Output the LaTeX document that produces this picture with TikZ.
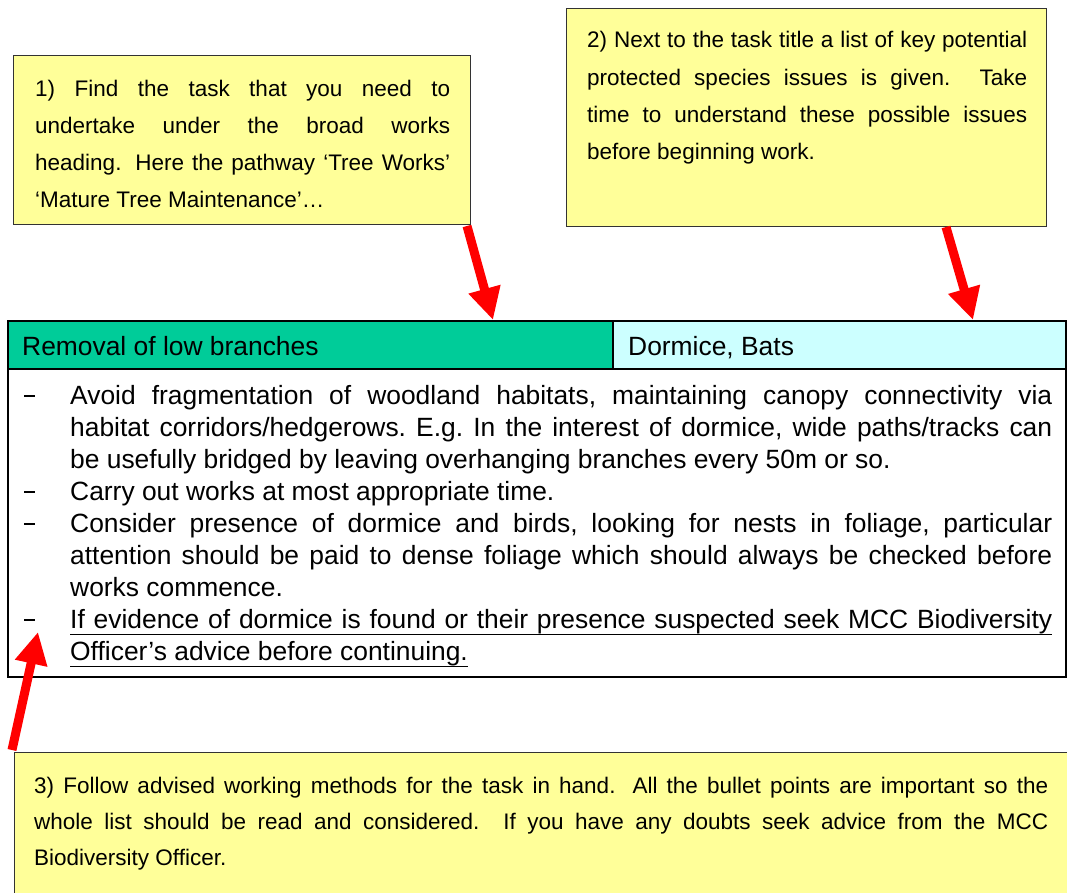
\documentclass[tikz,border=0pt]{standalone}
\usepackage{fontspec}
\setmainfont{Liberation Sans}
\usetikzlibrary{arrows.meta}
\definecolor{noteyellow}{HTML}{FFFF99}
\definecolor{hdrgreen}{HTML}{00CC99}
\definecolor{hdrcyan}{HTML}{CCFFFF}
\definecolor{boxgray}{HTML}{333333}
\newcommand\notefont[1]{\fontsize{22.5}{#1}\selectfont}
\newcommand\bodyfont{\fontsize{26.4}{32.1}\selectfont}
\newcommand\bitem[1]{\noindent\hangindent=48pt\hangafter=1\makebox[48pt][l]{\hspace{2pt}\rule[7.5pt]{11pt}{1.9pt}}#1\par}
\newcommand\myul[1]{\setbox0\hbox{#1}\rlap{\rule[-6.5pt]{\wd0}{1.4pt}}\box0}
\begin{document}
\begin{tikzpicture}[x=1pt,y=-1pt,
  notebox/.style={draw=boxgray, line width=1.4pt, fill=noteyellow, anchor=north west, inner sep=0},
  cellbox/.style={draw=black, line width=2pt, anchor=north west, inner sep=0},
  txt/.style={anchor=base west, inner sep=0},
  redarrow/.style={draw=red, line width=9pt, -{Triangle[length=32pt,width=31pt]}}]
\path[use as bounding box] (0,0) rectangle (1067,893);
\clip (0,0) rectangle (1067,893);

% annotation boxes
\node[notebox, minimum width=457pt, minimum height=169pt] (box1) at (13,55) {};
\node[txt] (t1) at (35,97) {\parbox[t]{415pt}{\notefont{36.9}1) Find the task that you need to\linebreak undertake under the broad works\linebreak heading. Here the pathway ‘Tree Works’\linebreak ‘Mature Tree Maintenance’…}};

\node[notebox, minimum width=480pt, minimum height=218pt] (box2) at (566,8) {};
\node[txt] (t2) at (587,48) {\parbox[t]{440pt}{\notefont{37.3}2) Next to the task title a list of key potential\linebreak protected species issues is given. Take\linebreak time to understand these possible issues\linebreak before beginning work.}};

\node[notebox, minimum width=1070pt, minimum height=170pt] (box3) at (14,752) {};
\node[txt] (t3) at (34,793) {\parbox[t]{1014pt}{\notefont{36}3) Follow advised working methods for the task in hand. All the bullet points are important so the\linebreak whole list should be read and considered. If you have any doubts seek advice from the MCC\linebreak Biodiversity Officer.}};

% table
\node[cellbox, minimum width=1058pt, minimum height=308pt] (body) at (7,368) {};
\node[cellbox, fill=hdrgreen, minimum width=605pt, minimum height=48pt] (hdrL) at (7,320) {};
\node[cellbox, fill=hdrcyan, minimum width=453pt, minimum height=48pt] (hdrR) at (612,320) {};
\node[txt] (hdrLt) at (22,355) {\bodyfont Removal of low branches};
\node[txt] (hdrRt) at (628,355) {\bodyfont Dormice, Bats};

\node[txt] (list) at (22,404) {\parbox[t]{1030pt}{\bodyfont\frenchspacing
\bitem{Avoid fragmentation of woodland habitats, maintaining canopy connectivity via\linebreak habitat corridors/hedgerows. E.g. In the interest of dormice, wide paths/tracks can\linebreak be usefully bridged by leaving overhanging branches every 50m or so.}
\bitem{Carry out works at most appropriate time.}
\bitem{Consider presence of dormice and birds, looking for nests in foliage, particular\linebreak attention should be paid to dense foliage which should always be checked before\linebreak works commence.}
\bitem{\myul{\makebox[982pt][s]{If evidence of dormice is found or their presence suspected seek MCC Biodiversity}}\linebreak \myul{Officer’s advice before continuing.}}
}};

% arrows
\coordinate (a1s) at (467,226);
\coordinate (a1e) at (493,320);
\coordinate (a2s) at (946,227);
\coordinate (a2e) at (973,320);
\coordinate (a3s) at (12,750);
\coordinate (a3e) at (38,632);
\draw[redarrow] (a1s) -- (a1e);
\draw[redarrow] (a2s) -- (a2e);
\draw[redarrow] (a3s) -- (a3e);
\end{tikzpicture}
\end{document}
